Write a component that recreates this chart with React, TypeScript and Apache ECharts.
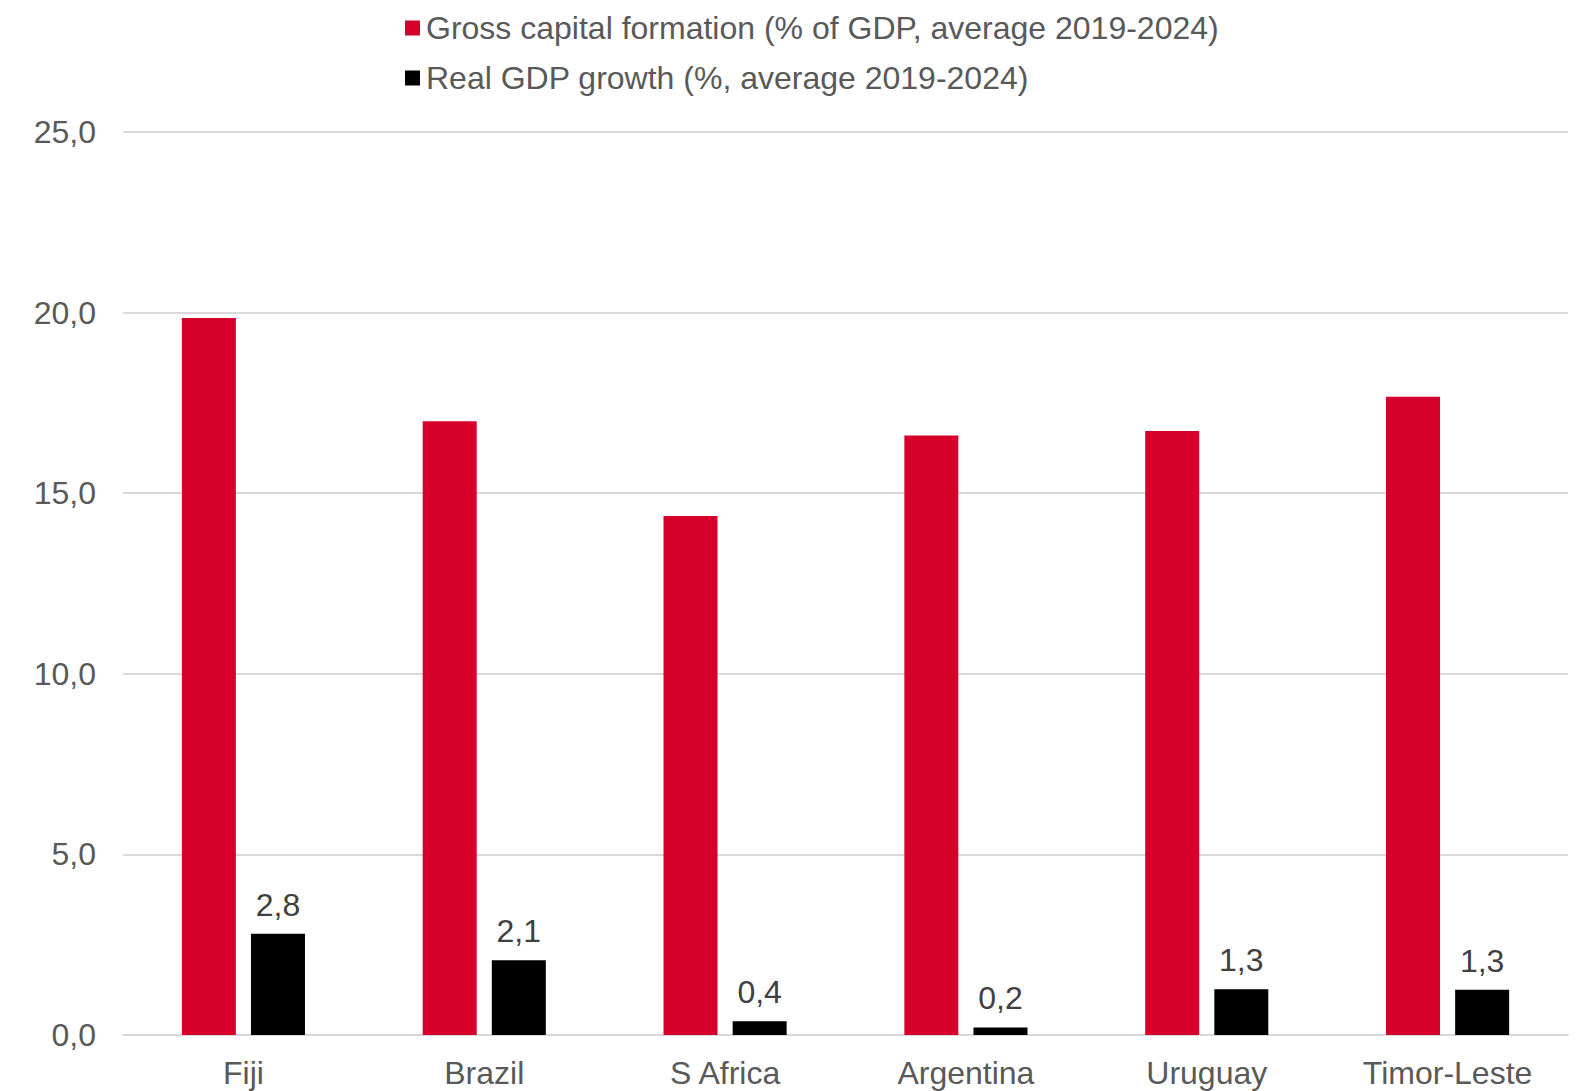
import React, { useEffect, useRef } from "react";
import * as echarts from "echarts";

const categories = ["Fiji", "Brazil", "S Africa", "Argentina", "Uruguay", "Timor-Leste"];
const grossCapitalFormation = [19.85, 16.99, 14.37, 16.6, 16.72, 17.67];
const realGdpGrowth = [2.8, 2.07, 0.38, 0.21, 1.27, 1.25];
const seriesNames = [
  "Gross capital formation (% of GDP, average 2019-2024)",
  "Real GDP growth (%, average 2019-2024)",
];

const FONT = "'Liberation Sans', Arial, sans-serif";
const fmt = (v: number) => (Math.round(v * 10) / 10).toFixed(1).replace(".", ",");

export default function App() {
  const ref = useRef<HTMLDivElement>(null);
  useEffect(() => {
    if (!ref.current) return;
    const chart = echarts.init(ref.current, null, { renderer: "svg" });
    chart.setOption({
      animation: false,
      backgroundColor: "#ffffff",
      textStyle: { fontFamily: FONT },
      legend: {
        orient: "vertical",
        left: 400,
        top: 7,
        itemWidth: 15,
        itemHeight: 15,
        itemGap: 18,
        icon: "rect",
        textStyle: { fontFamily: FONT, fontSize: 32, color: "#595959", padding: [0, 0, 0, 1] },
        data: seriesNames,
      },
      grid: { left: 123, right: 12, top: 132, bottom: 56, containLabel: false },
      xAxis: {
        type: "category",
        data: categories,
        axisTick: { show: false },
        axisLine: { lineStyle: { color: "#d9d9d9", width: 2 } },
        axisLabel: { fontFamily: FONT, fontSize: 32, color: "#595959", margin: 22 },
      },
      yAxis: {
        type: "value",
        min: 0,
        max: 25,
        interval: 5,
        axisLine: { show: false },
        axisTick: { show: false },
        splitLine: { lineStyle: { color: "#d9d9d9", width: 2 } },
        axisLabel: {
          fontFamily: FONT,
          fontSize: 32,
          color: "#595959",
          margin: 27,
          formatter: (v: number) => fmt(v),
        },
      },
      series: [
        {
          name: seriesNames[0],
          type: "bar",
          data: grossCapitalFormation,
          barWidth: 54,
          barGap: "28%",
          itemStyle: { color: "#d7002a" },
        },
        {
          name: seriesNames[1],
          type: "bar",
          data: realGdpGrowth,
          barWidth: 54,
          barGap: "28%",
          itemStyle: { color: "#000000" },
          label: {
            show: true,
            position: "top",
            distance: 13,
            fontFamily: FONT,
            fontSize: 32,
            color: "#404040",
            formatter: (p: any) => fmt(p.value),
          },
        },
      ],
    });
    return () => chart.dispose();
  }, []);
  return (
    <div
      ref={ref}
      style={{ position: "fixed", left: 0, top: 0, width: 1580, height: 1091 }}
    />
  );
}
